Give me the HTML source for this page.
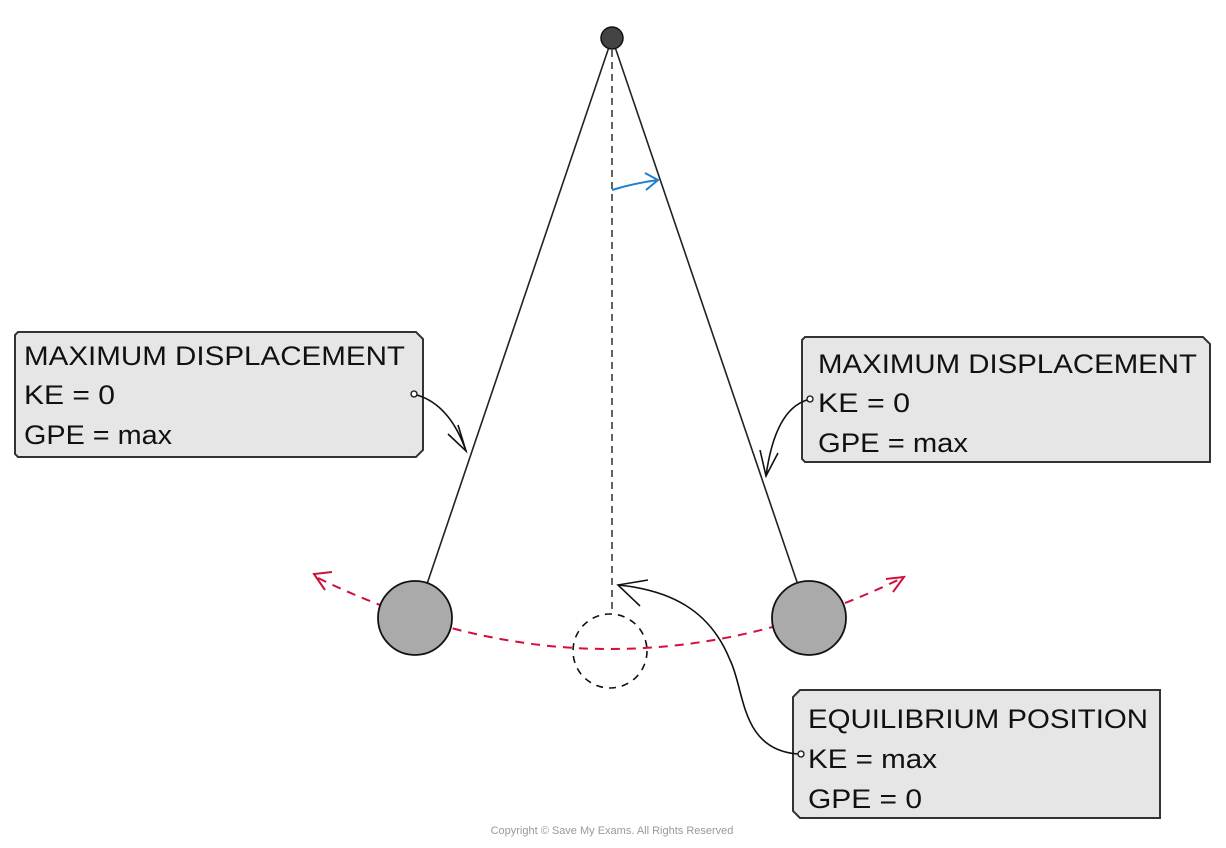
<!DOCTYPE html>
<html><head><meta charset="utf-8"><style>
html,body{margin:0;padding:0;background:#fff;}
svg{display:block;}
text{font-family:"Liberation Sans","DejaVu Sans",sans-serif;fill:#111;}
</style></head><body>
<svg width="1226" height="848" viewBox="0 0 1226 848" xmlns="http://www.w3.org/2000/svg">
<line x1="610" y1="44" x2="427" y2="584" stroke="#222" stroke-width="1.6"/>
<line x1="614" y1="44" x2="797" y2="582" stroke="#222" stroke-width="1.6"/>
<line x1="612" y1="50" x2="612" y2="612" stroke="#222" stroke-width="1.4" stroke-dasharray="7,5"/>
<circle cx="612" cy="38" r="11" fill="#444" stroke="#111" stroke-width="1.5"/>
<path d="M612 190 Q635 183 658 180" fill="none" stroke="#1f7fd0" stroke-width="2"/>
<path d="M645 173 L658 180 L646 190" fill="none" stroke="#1f7fd0" stroke-width="2"/>
<path d="M318 578 Q610 720 902 578" fill="none" stroke="#d0103a" stroke-width="2" stroke-dasharray="9,7"/>
<path d="M332 572 L314 574 L325 590" fill="none" stroke="#d0103a" stroke-width="2"/>
<path d="M886 579 L904 577 L893 592" fill="none" stroke="#d0103a" stroke-width="2"/>
<circle cx="415" cy="618" r="37" fill="#aaaaaa" stroke="#111" stroke-width="1.8"/>
<circle cx="809" cy="618" r="37" fill="#aaaaaa" stroke="#111" stroke-width="1.8"/>
<circle cx="610" cy="651" r="37" fill="none" stroke="#111" stroke-width="1.6" stroke-dasharray="7,6"/>
<path d="M18 332 L416 332 L423 339 L423 450 L416 457 L18 457 L15 454 L15 335 Z" fill="#e6e6e6" stroke="#333" stroke-width="2"/>
<text x="24" y="365" font-size="27" textLength="381" lengthAdjust="spacingAndGlyphs">MAXIMUM DISPLACEMENT</text>
<text x="24" y="404" font-size="27" textLength="91" lengthAdjust="spacingAndGlyphs">KE = 0</text>
<text x="24" y="444" font-size="27" textLength="148" lengthAdjust="spacingAndGlyphs">GPE = max</text>
<path d="M805 337 L1203 337 L1210 344 L1210 462 L805 462 L802 459 L802 340 Z" fill="#e6e6e6" stroke="#333" stroke-width="2"/>
<text x="818" y="373" font-size="27" textLength="379" lengthAdjust="spacingAndGlyphs">MAXIMUM DISPLACEMENT</text>
<text x="818" y="412" font-size="27" textLength="92" lengthAdjust="spacingAndGlyphs">KE = 0</text>
<text x="818" y="452" font-size="27" textLength="150" lengthAdjust="spacingAndGlyphs">GPE = max</text>
<path d="M800 690 L1160 690 L1160 818 L800 818 L793 811 L793 697 Z" fill="#e6e6e6" stroke="#333" stroke-width="2"/>
<text x="808" y="728" font-size="27" textLength="340" lengthAdjust="spacingAndGlyphs">EQUILIBRIUM POSITION</text>
<text x="808" y="768" font-size="27" textLength="129" lengthAdjust="spacingAndGlyphs">KE = max</text>
<text x="808" y="808" font-size="27" textLength="114" lengthAdjust="spacingAndGlyphs">GPE = 0</text>
<circle cx="414" cy="394" r="3" fill="#fff" stroke="#111" stroke-width="1.3"/>
<path d="M417 395 Q450 405 466 451" fill="none" stroke="#111" stroke-width="1.6"/>
<path d="M458 425 L466 451 L448 434" fill="none" stroke="#111" stroke-width="1.6"/>
<circle cx="810" cy="399" r="3" fill="#fff" stroke="#111" stroke-width="1.3"/>
<path d="M807 400 Q775 410 766 476" fill="none" stroke="#111" stroke-width="1.6"/>
<path d="M760 450 L766 476 L778 453" fill="none" stroke="#111" stroke-width="1.6"/>
<circle cx="801" cy="754" r="3" fill="#fff" stroke="#111" stroke-width="1.3"/>
<path d="M798 754 C740 750 745 690 730 660 C710 610 670 590 618 585" fill="none" stroke="#111" stroke-width="1.6"/>
<path d="M648 580 L618 585 L640 606" fill="none" stroke="#111" stroke-width="1.6"/>
<text x="612" y="834" font-size="11" text-anchor="middle" style="fill:#999">Copyright © Save My Exams. All Rights Reserved</text>
</svg>
</body></html>
